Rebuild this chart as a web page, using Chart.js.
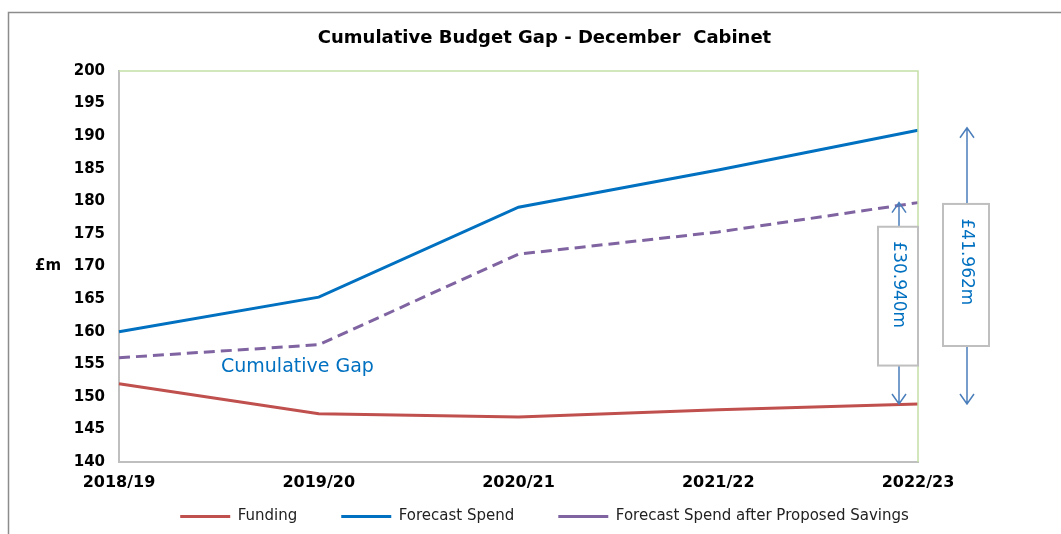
<!DOCTYPE html>
<html>
<head>
<meta charset="utf-8">
<script src="https://cdn.jsdelivr.net/npm/chart.js@4"></script>
<style>
  html, body { margin: 0; padding: 0; background: #fff; }
</style>
</head>
<body>
<canvas id="gapChart" width="1061" height="534"></canvas>
<script>
// chart data
const years = ["2018/19", "2019/20", "2020/21", "2021/22", "2022/23"];
const funding = [152.0, 147.4, 146.9, 148.0, 148.9];
const forecastSpend = [160.0, 165.3, 179.1, 184.8, 190.9];
const afterSavings = [156.0, 158.0, 171.9, 175.3, 179.8];
const yTicks = [140, 145, 150, 155, 160, 165, 170, 175, 180, 185, 190, 195, 200];
const gapLabels = ["£30.940m", "£41.962m"];

const FONT = "'DejaVu Sans', Verdana, sans-serif";
const ARROW = "#4a7ebb";
const GAP_BLUE = "#0070c0";

function drawArrow(ctx, x, yTop, yBottom) {
  ctx.save();
  ctx.strokeStyle = ARROW;
  ctx.lineWidth = 1.5;
  ctx.beginPath();
  ctx.moveTo(x, yTop);
  ctx.lineTo(x, yBottom);
  // open arrow heads
  ctx.moveTo(x - 7, yTop + 10);
  ctx.lineTo(x, yTop);
  ctx.lineTo(x + 7, yTop + 10);
  ctx.moveTo(x - 7, yBottom - 10);
  ctx.lineTo(x, yBottom);
  ctx.lineTo(x + 7, yBottom - 10);
  ctx.stroke();
  ctx.restore();
}

function drawGapBox(ctx, left, top, right, bottom, text) {
  ctx.save();
  ctx.fillStyle = "#fff";
  ctx.fillRect(left, top, right - left, bottom - top);
  ctx.strokeStyle = "#bfbfbf";
  ctx.lineWidth = 2;
  ctx.strokeRect(left, top, right - left, bottom - top);
  // text sits near the top of the box
  ctx.translate((left + right) / 2, top + 58);
  ctx.rotate(Math.PI / 2);
  ctx.fillStyle = GAP_BLUE;
  ctx.font = "17px " + FONT;
  ctx.textAlign = "center";
  ctx.textBaseline = "middle";
  ctx.fillText(text, 0, 0);
  ctx.restore();
}

const decorations = {
  id: "decorations",
  afterLayout(chart) {
    // let the x labels draw below the thin axis box
    chart.scales.x.bottom = chart.height;
  },
  beforeDraw(chart) {
    const ctx = chart.ctx;
    ctx.save();
    ctx.fillStyle = "#fff";
    ctx.fillRect(0, 0, chart.width, chart.height);
    ctx.strokeStyle = "#8c8c8c";
    ctx.lineWidth = 1.5;
    ctx.strokeRect(8.5, 12.5, 1200, 700);
    ctx.restore();
  },
  afterDatasetsDraw(chart) {
    const ctx = chart.ctx;
    const area = chart.chartArea;
    const x = chart.scales.x;
    const y = chart.scales.y;

    // light green top and right plot edges
    ctx.save();
    ctx.strokeStyle = "#c5e0a8";
    ctx.lineWidth = 1.5;
    ctx.beginPath();
    ctx.moveTo(area.left, area.top);
    ctx.lineTo(area.right, area.top);
    ctx.lineTo(area.right, area.bottom);
    ctx.stroke();

    // axis unit
    ctx.fillStyle = "#000";
    ctx.font = "bold 15px " + FONT;
    ctx.textAlign = "center";
    ctx.textBaseline = "middle";
    ctx.fillText("£m", area.left - 71, y.getPixelForValue(170));

    // cumulative gap label
    ctx.fillStyle = GAP_BLUE;
    ctx.font = "19px " + FONT;
    ctx.textAlign = "left";
    ctx.fillText("Cumulative Gap", x.getPixelForValue(0) + 102, y.getPixelForValue(154.5));
    ctx.restore();

    const last = years.length - 1;
    const xLast = x.getPixelForValue(last);
    const yFund = y.getPixelForValue(funding[last]);

    // gap after savings
    drawArrow(ctx, xLast - 19, y.getPixelForValue(afterSavings[last]), yFund);
    drawGapBox(ctx, xLast - 40, y.getPixelForValue(176.1), xLast, y.getPixelForValue(154.8), gapLabels[0]);

    // gap before savings
    drawArrow(ctx, xLast + 49, y.getPixelForValue(191.3), yFund);
    drawGapBox(ctx, xLast + 25, y.getPixelForValue(179.6), xLast + 71, y.getPixelForValue(157.8), gapLabels[1]);
  }
};

new Chart(document.getElementById("gapChart"), {
  type: "line",
  data: {
    labels: years,
    datasets: [
      {
        label: "Funding",
        data: funding,
        borderColor: "#c0504d",
        backgroundColor: "#c0504d",
        borderWidth: 3,
        pointRadius: 0,
        pointStyle: "line",
        tension: 0,
      },
      {
        label: "Forecast Spend",
        data: forecastSpend,
        borderColor: "#0070c0",
        backgroundColor: "#0070c0",
        borderWidth: 3,
        pointRadius: 0,
        pointStyle: "line",
        tension: 0,
      },
      {
        label: "Forecast Spend after Proposed Savings",
        data: afterSavings,
        borderColor: "#8064a2",
        backgroundColor: "#8064a2",
        borderWidth: 3,
        borderDash: [11, 6],
        pointRadius: 0,
        pointStyle: "line",
        tension: 0,
      },
    ],
  },
  options: {
    responsive: false,
    animation: false,
    layout: { padding: { left: 28, right: 0, top: 0, bottom: 0 } },
    plugins: {
      title: {
        display: true,
        text: "Cumulative Budget Gap - December  Cabinet",
        color: "#000",
        font: { family: FONT, size: 18, weight: "bold" },
        padding: { top: 28, bottom: 21.4 },
      },
      legend: {
        position: "bottom",
        labels: {
          usePointStyle: true,
          pointStyleWidth: 50,
          padding: 44,
          color: "#222",
          font: { family: FONT, size: 15 },
        },
      },
      tooltip: { enabled: false },
    },
    scales: {
      x: {
        offset: false,
        grid: { display: false, drawTicks: false },
        border: { display: true, color: "#bfbfbf", width: 2 },
        ticks: {
          color: "#000",
          padding: 11,
          maxRotation: 0,
          font: { family: FONT, size: 16, weight: "bold" },
        },
        afterFit(scale) {
          scale.height = 3;
        },
      },
      y: {
        min: 140,
        max: 200,
        grid: { display: false, drawTicks: false },
        border: { display: true, color: "#bfbfbf", width: 2 },
        afterBuildTicks(scale) {
          scale.ticks = yTicks.map((v) => ({ value: v }));
        },
        ticks: {
          color: "#000",
          padding: 14,
          font: { family: FONT, size: 15, weight: "bold" },
        },
        afterFit(scale) {
          scale.width = 91;
        },
      },
      spare: {
        position: "right",
        display: true,
        grid: { display: false, drawTicks: false },
        border: { display: false },
        ticks: { display: false },
        afterFit(scale) {
          scale.width = 143;
        },
      },
    },
  },
  plugins: [decorations],
});
</script>
</body>
</html>
